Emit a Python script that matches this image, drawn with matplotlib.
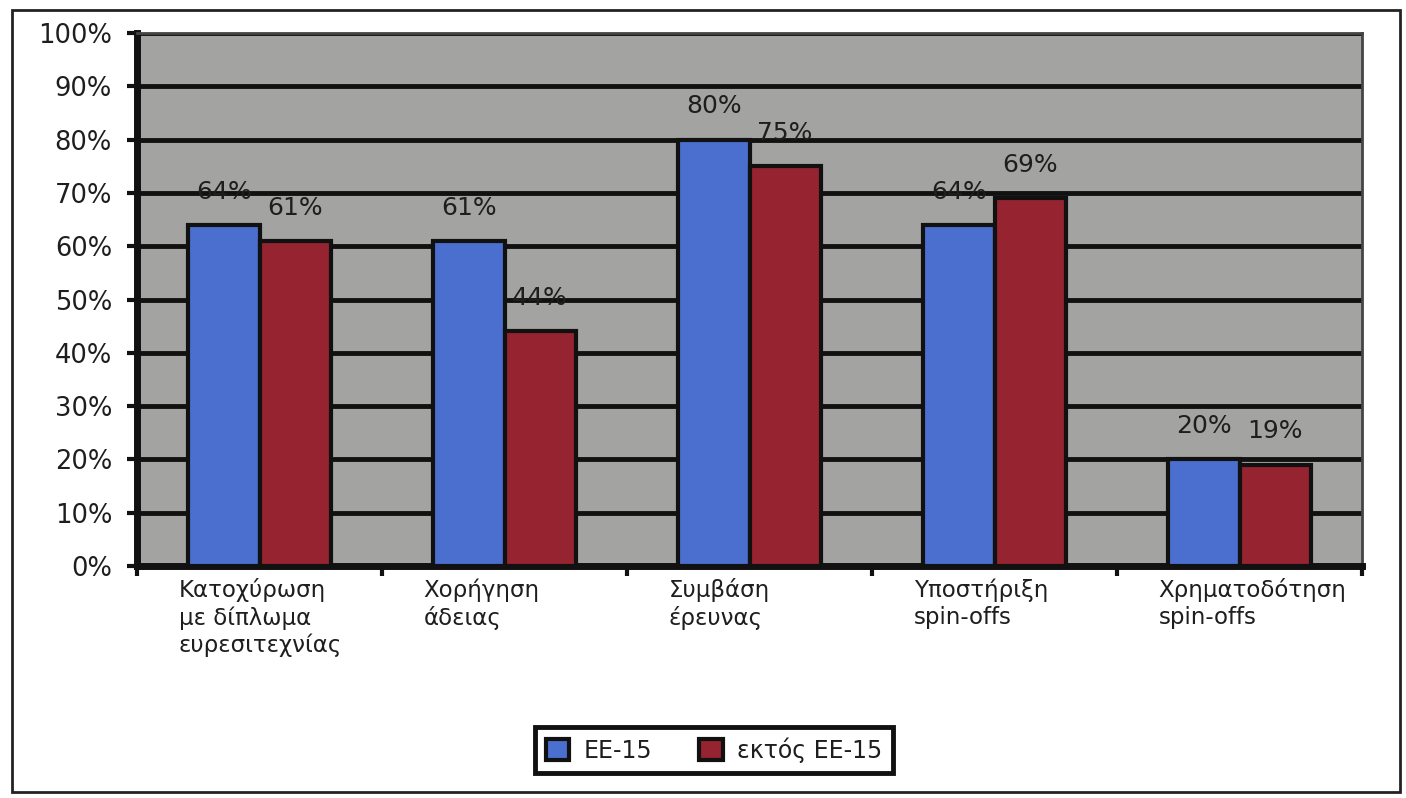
import numpy as np
import matplotlib.pyplot as plt
from matplotlib.patches import Rectangle
from matplotlib.transforms import offset_copy

categories = [
    "Κατοχύρωση\nμε δίπλωμα\nευρεσιτεχνίας",
    "Χορήγηση\nάδειας",
    "Συμβάση\nέρευνας",
    "Υποστήριξη\nspin-offs",
    "Χρηματοδότηση\nspin-offs",
]
series_names = ["ΕΕ-15", "εκτός ΕΕ-15"]
eu15 = [64, 61, 80, 64, 20]
non_eu15 = [61, 44, 75, 69, 19]
y_ticks = [0, 10, 20, 30, 40, 50, 60, 70, 80, 90, 100]

blue = "#4a6fcf"
red = "#962330"
bg = "#a3a3a1"
ink = "#1e1e1e"

plt.rcParams["font.family"] = ["DejaVu Sans"]

fig = plt.figure(figsize=(14.06, 7.98), dpi=100)
ax = fig.add_axes([137 / 1406, 1 - 566 / 798, 1225 / 1406, 533 / 798])
ax.set_facecolor(bg)

x = np.arange(len(categories))
w = 0.29
b1 = ax.bar(x - w / 2, eu15, w, color=blue, edgecolor="#111111", linewidth=3,
            label=series_names[0], zorder=3)
b2 = ax.bar(x + w / 2, non_eu15, w, color=red, edgecolor="#111111", linewidth=3,
            label=series_names[1], zorder=3)

for bars, vals in ((b1, eu15), (b2, non_eu15)):
    for rect, v in zip(bars, vals):
        ax.annotate(f"{v}%", (rect.get_x() + rect.get_width() / 2, v),
                    xytext=(0, 24), textcoords="offset points",
                    ha="center", va="center", fontsize=18, color=ink, zorder=4)

ax.set_xlim(-0.5, len(categories) - 0.5)
ax.set_ylim(0, 100)
ax.set_yticks(y_ticks)
ax.set_yticklabels([f"{t}%" for t in y_ticks], fontsize=18.5, color=ink)
ax.yaxis.grid(True, color="#111111", linewidth=3.5, zorder=1)
ax.set_axisbelow(True)

# category boundary ticks
ax.set_xticks(np.arange(len(categories) + 1) - 0.5)
ax.set_xticklabels([])
ax.tick_params(axis="x", direction="out", length=7, width=3, color="#111111")
ax.tick_params(axis="y", direction="out", length=7, width=3, color="#111111", pad=11)

for side in ("left", "bottom"):
    ax.spines[side].set_linewidth(5)
    ax.spines[side].set_color("#111111")
for side in ("top", "right"):
    ax.spines[side].set_linewidth(2)
    ax.spines[side].set_color("#444444")

# category labels: left-aligned blocks
trans = offset_copy(ax.get_xaxis_transform(), fig=fig, x=0, y=-9, units="points")
for i, lab in enumerate(categories):
    ax.text(i - 0.33, 0, lab, transform=trans, ha="left", va="top",
            fontsize=16.5, color=ink, linespacing=1.2)

leg = fig.legend(handles=[b1, b2], labels=series_names, loc="center",
                 bbox_to_anchor=(714 / 1406, 1 - 750 / 798), ncol=2,
                 fontsize=17, frameon=True, fancybox=False, framealpha=1,
                 handlelength=1.0, handleheight=1.0, handletextpad=0.6,
                 columnspacing=2.0, borderpad=0.45)
leg.get_frame().set_edgecolor("#111111")
leg.get_frame().set_linewidth(3.5)
for t in leg.get_texts():
    t.set_color(ink)

fig.patches.append(Rectangle((12 / 1406, 6 / 798), 1388 / 1406, 782 / 798,
                             transform=fig.transFigure, fill=False,
                             edgecolor="#222222", linewidth=2))

fig.savefig("out.png", dpi=100)
